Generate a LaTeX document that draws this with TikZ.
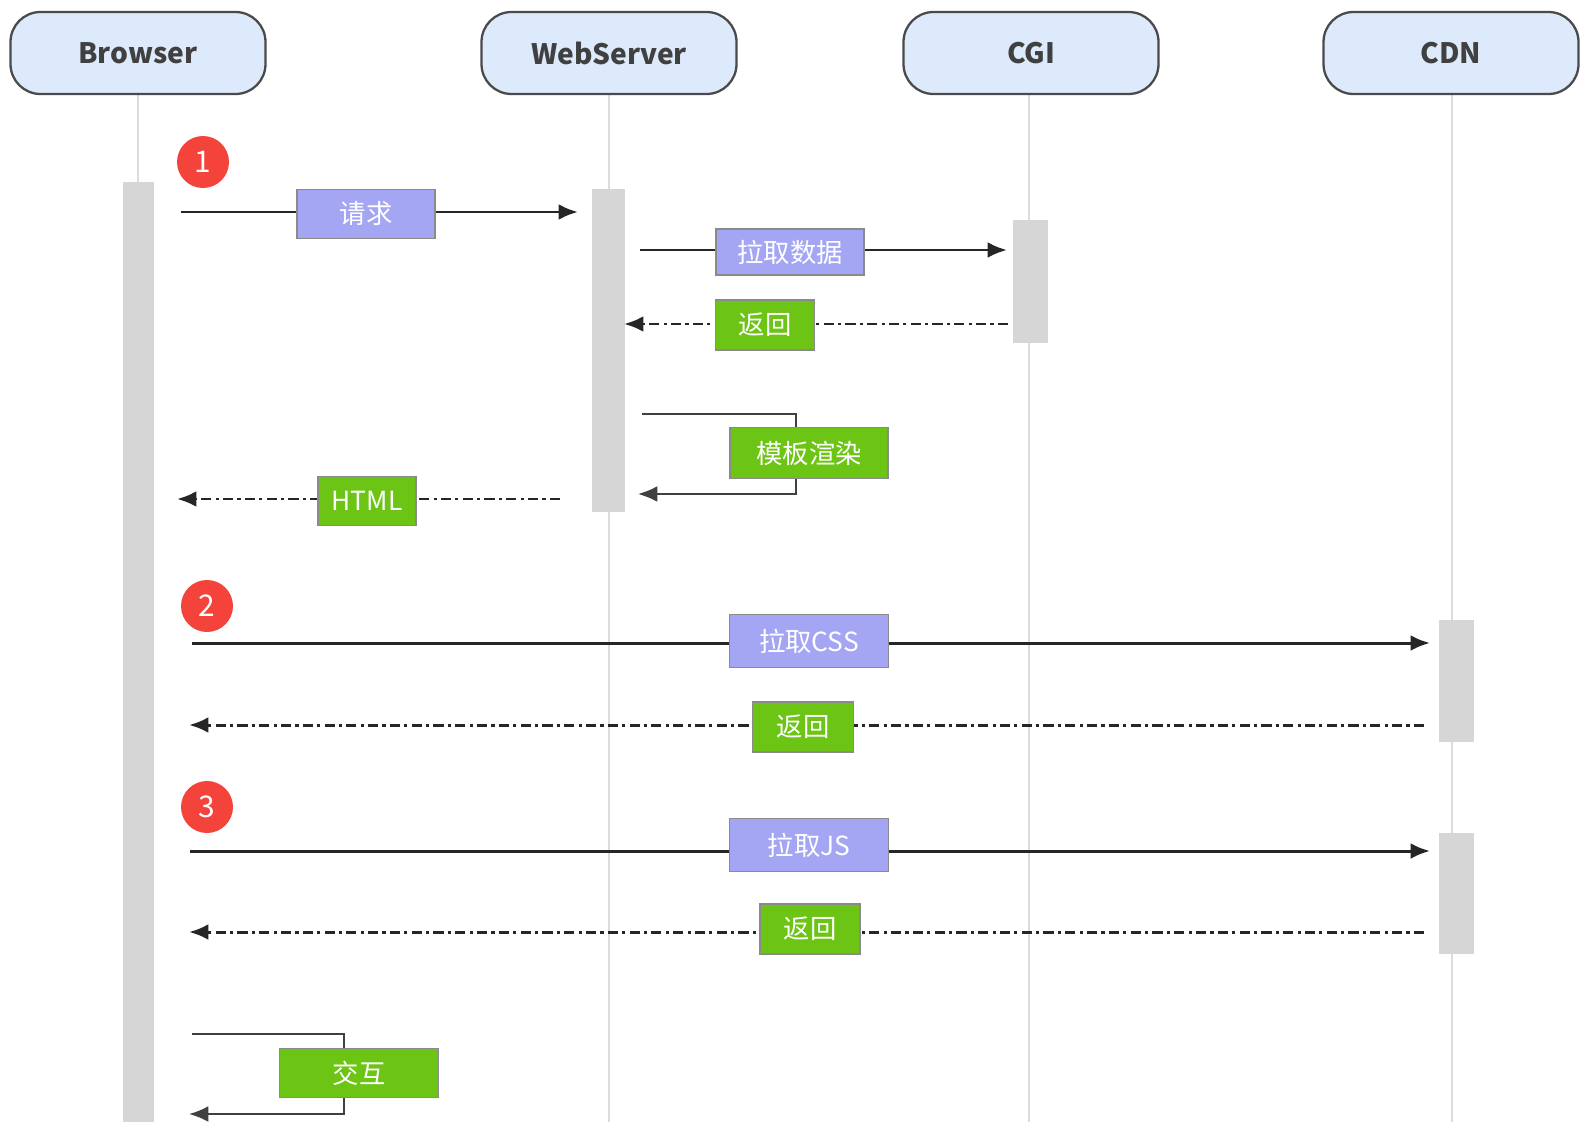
\documentclass[tikz,border=0pt]{standalone}
\usepackage{fontspec}
\usetikzlibrary{arrows.meta}
\newfontfamily\cjk{Noto Sans CJK SC}
\definecolor{hdrfill}{HTML}{DCEAFB}
\definecolor{hdrdraw}{HTML}{4A4A4A}
\definecolor{lifegray}{HTML}{DCDCDC}
\definecolor{barfill}{HTML}{D6D6D6}
\definecolor{reqfill}{HTML}{A4A6F4}
\definecolor{retfill}{HTML}{6CC414}
\definecolor{lblline}{HTML}{8A8A8A}
\definecolor{badge}{HTML}{F4433A}
\tikzset{
  actor/.style={draw=hdrdraw, line width=1.3pt, fill=hdrfill, rounded corners=30*0.02cm,
    minimum width=255*0.02cm, minimum height=82*0.02cm, inner sep=0pt,
    font=\cjk\bfseries\fontsize{16}{16}\selectfont, text=black!75},
  lifeline/.style={draw=lifegray, line width=1.2pt},
  actbar/.style={fill=barfill, draw=none},
  lbl/.style={draw=lblline, line width=0.8pt, inner sep=0pt, text=white,
    font=\cjk\fontsize{15}{15}\selectfont},
  reqlbl/.style={lbl, fill=reqfill},
  retlbl/.style={lbl, fill=retfill},
  callmsg/.style={draw=black!85, line width=1.7pt, -{Latex[length=11pt,width=9pt]}},
  retmsg/.style={draw=black!85, line width=1.7pt, -{Latex[length=11pt,width=9pt]},
    dash pattern=on 5.8pt off 2.4pt on 1.8pt off 2.4pt},
  selfmsg/.style={draw=black!75, line width=1.1pt, -{Latex[length=11pt,width=9pt]}},
  stepbadge/.style={circle, fill=badge, draw=none, minimum size=52*0.02cm, inner sep=0pt,
    text=white, font=\cjk\fontsize{17}{17}\selectfont},
}
\begin{document}
\begin{tikzpicture}[x=0.02cm, y=-0.02cm]
\useasboundingbox (0,0) rectangle (1581,1122);

% lifelines
\foreach \x in {138,609,1029,1452} \draw[lifeline] (\x,94) -- (\x,1122);

% activation bars
\fill[actbar] (123,182) rectangle (154,1122);
\fill[actbar] (592,189) rectangle (625,512);
\fill[actbar] (1013,220) rectangle (1048,343);
\fill[actbar] (1439,620) rectangle (1474,742);
\fill[actbar] (1439,833) rectangle (1474,954);

% participants
\node[actor] (browser) at (138,53) {Browser};
\node[actor] (webserver) at (609,53) {WebServer};
\node[actor] (cgi) at (1031,53) {CGI};
\node[actor] (cdn) at (1451,53) {CDN};

% step badges
\node[stepbadge] (b1) at (203,162) {1};
\node[stepbadge] (b2) at (207,606) {2};
\node[stepbadge] (b3) at (207,807) {3};

% message end points
\coordinate (m1s) at (181,212);  \coordinate (m1e) at (578,212);
\coordinate (m2s) at (640,250);  \coordinate (m2e) at (1007,250);
\coordinate (m3s) at (1008,324); \coordinate (m3e) at (624,324);
\coordinate (m4a) at (642,414);  \coordinate (m4b) at (796,414);
\coordinate (m4c) at (796,494);  \coordinate (m4d) at (638,494);
\coordinate (m5s) at (560,499);  \coordinate (m5e) at (177,499);
\coordinate (m6s) at (192,643);  \coordinate (m6e) at (1430,643);
\coordinate (m7s) at (1424,725); \coordinate (m7e) at (189,725);
\coordinate (m8s) at (190,851);  \coordinate (m8e) at (1430,851);
\coordinate (m9s) at (1424,932); \coordinate (m9e) at (189,932);
\coordinate (m10a) at (192,1034); \coordinate (m10b) at (344,1034);
\coordinate (m10c) at (344,1114); \coordinate (m10d) at (189,1114);

% messages
\draw[callmsg] (m1s) -- (m1e);
\draw[callmsg] (m2s) -- (m2e);
\draw[retmsg] (m3s) -- (m3e);
\draw[selfmsg] (m4a) -- (m4b) -- (m4c) -- (m4d);
\draw[retmsg] (m5s) -- (m5e);
\draw[callmsg] (m6s) -- (m6e);
\draw[retmsg] (m7s) -- (m7e);
\draw[callmsg] (m8s) -- (m8e);
\draw[retmsg] (m9s) -- (m9e);
\draw[selfmsg] (m10a) -- (m10b) -- (m10c) -- (m10d);

% message labels
\node[reqlbl, minimum width=138*0.02cm, minimum height=49*0.02cm] (l1) at (366,214) {请求};
\node[reqlbl, minimum width=148*0.02cm, minimum height=46*0.02cm] (l2) at (790,252) {拉取数据};
\node[retlbl, minimum width=99*0.02cm, minimum height=50*0.02cm] (l3) at (765,325) {返回};
\node[retlbl, minimum width=158*0.02cm, minimum height=51*0.02cm] (l4) at (809,453) {模板渲染};
\node[retlbl, minimum width=98*0.02cm, minimum height=49*0.02cm] (l5) at (367,501) {HTML};
\node[reqlbl, minimum width=159*0.02cm, minimum height=53*0.02cm] (l6) at (809,641) {拉取CSS};
\node[retlbl, minimum width=101*0.02cm, minimum height=50*0.02cm] (l7) at (803,727) {返回};
\node[reqlbl, minimum width=159*0.02cm, minimum height=53*0.02cm] (l8) at (809,845) {拉取JS};
\node[retlbl, minimum width=100*0.02cm, minimum height=50*0.02cm] (l9) at (810,929) {返回};
\node[retlbl, minimum width=159*0.02cm, minimum height=49*0.02cm] (l10) at (359,1073) {交互};
\end{tikzpicture}
\end{document}
